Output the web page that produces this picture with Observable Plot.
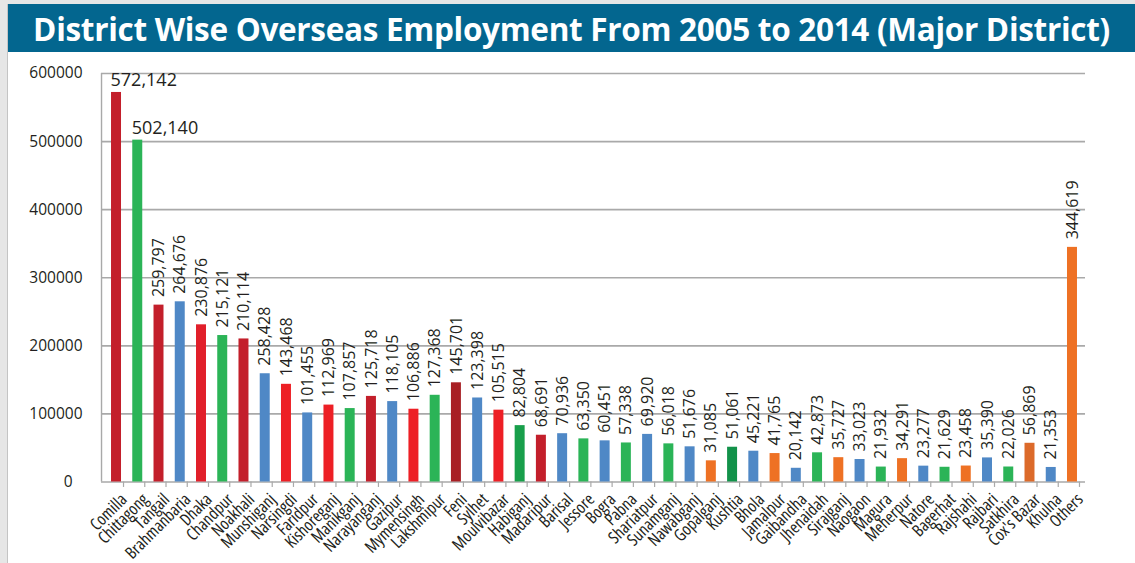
<!DOCTYPE html>
<html>
<head>
<meta charset="utf-8">
<script src="https://cdn.jsdelivr.net/npm/d3@7"></script>
<script src="https://cdn.jsdelivr.net/npm/@observablehq/plot@0.6"></script>
<style>
  html, body { margin: 0; padding: 0; }
  body { width: 1135px; height: 563px; overflow: hidden; background: #fff; position: relative; font-family: "Open Sans", sans-serif; }
  #strip { position: absolute; left: 0; top: 0; width: 7px; height: 563px; background: #e6e6e6; border-right: 1px solid #c4c4c4; }
  #topstrip { position: absolute; left: 0; top: 0; width: 1135px; height: 4px; background: #e6e6e6; }
  #title { position: absolute; left: 8px; top: 4px; width: 1127px; height: 48px; background: #03668f; color: #fff;
           font-weight: 700; font-size: 31.5px; letter-spacing: -0.3px; display: flex; align-items: center; justify-content: center; white-space: nowrap; }
  #chart { position: absolute; left: 0; top: 53px; }
</style>
</head>
<body>
<div id="strip"></div>
<div id="topstrip"></div>
<div id="title">District Wise Overseas Employment From 2005 to 2014 (Major District)</div>
<div id="chart"></div>
<script>
const districts = ["Comilla","Chittagong","Tangail","Brahmanbaria","Dhaka","Chandpur","Noakhali","Munshiganj","Narsingdi","Faridpur","Kishoreganj","Manikganj","Narayanganj","Gazipur","Mymensingh","Lakshmipur","Feni","Sylhet","Moulvibazar","Habiganj","Madaripur","Barisal","Jessore","Bogra","Pabna","Shariatpur","Sunamganj","Nawabganj","Gopalganj","Kushtia","Bhola","Jamalpur","Gaibandha","Jhenaidah","Sirajganj","Naogaon","Magura","Meherpur","Natore","Bagerhat","Rajshahi","Rajbari","Satkhira","Cox's Bazar","Khulna","Others"];
// bar heights as drawn in the picture
const values = [572142,502140,259797,264676,230876,215121,210114,159000,143468,101455,112969,107857,125718,118105,106886,127368,145701,123398,105515,82804,68691,70936,63350,60451,57338,69920,56018,51676,31085,51061,45221,41765,20142,42873,35727,33023,21932,34291,23277,21629,23458,35390,22026,56869,21353,344619];
// value label texts as printed in the picture
const valueLabels = ["572,142","502,140","259,797","264,676","230,876","215,121","210,114","258,428","143,468","101,455","112,969","107,857","125,718","118,105","106,886","127,368","145,701","123,398","105,515","82,804","68,691","70,936","63,350","60,451","57,338","69,920","56,018","51,676","31,085","51,061","45,221","41,765","20,142","42,873","35,727","33,023","21,932","34,291","23,277","21,629","23,458","35,390","22,026","56,869","21,353","344,619"];
const groups = ["darkred","green","darkred","blue","red1","green","darkred","blue","red","blue","red","green","darkred","blue","red","green","crimson","blue","red","darkgreen","darkred","blue","green","blue","green","blue","green","blue","orange","darkgreen2","blue","orange","blue","green","orange","blue","green","orange","blue","green","orange","blue","green","darkorange","blue","orange"];
const yTicks = [0,100000,200000,300000,400000,500000,600000];

const groupDomain = ["darkred","green","blue","red1","red","crimson","darkgreen","darkgreen2","orange","darkorange"];
const groupColors = ["#c31f2b","#2bb457","#4f88c6","#e11f2a","#ed1f25","#a81f24","#189f4b","#12924a","#ee7124","#dc6a2a"];

const data = districts.map((d, i) => ({district: d, value: values[i], label: valueLabels[i], group: groups[i], i}));
const textColor = "#231f20";
const gridColor = "#a9a9a9";

const chart = Plot.plot({
  width: 1135,
  height: 510,
  marginTop: 20,
  marginBottom: 81.5,
  marginLeft: 105.5,
  marginRight: 52.5,
  style: {fontFamily: "'Open Sans', sans-serif", background: "transparent"},
  x: {domain: districts, paddingInner: 0.53, paddingOuter: 0.26, round: false, axis: null},
  y: {domain: [0, 600000], axis: null},
  color: {domain: groupDomain, range: groupColors},
  marks: [
    Plot.ruleY(yTicks, {stroke: gridColor, strokeWidth: 1.6, insetLeft: -4.5, insetRight: -2.5}),
    Plot.ruleX([districts[0]], {x: d => d, y1: 0, y2: 600000, dx: -15, stroke: gridColor, strokeWidth: 1.4}),
    Plot.ruleX(districts, {x: d => d, y1: 0, y2: -8000, dx: 7, stroke: gridColor, strokeWidth: 1.2}),
    Plot.axisY(yTicks.filter(t => t !== 0), {tickSize: 0, tickPadding: 23.5, tickFormat: d3.format("d"), fontSize: 15.5, fill: textColor, label: null}),
    Plot.axisY([0], {tickSize: 0, tickPadding: 33.5, tickFormat: d3.format("d"), fontSize: 15.5, fill: textColor, label: null}),
    Plot.barY(data, {x: "district", y: "value", fill: "group"}),
    Plot.text(data, {filter: d => d.i >= 2, x: "district", y: "value", text: "label", rotate: -90, textAnchor: "start", lineAnchor: "middle", dy: -8, fontSize: 16, fill: textColor}),
    Plot.text(data, {filter: d => d.i < 2, x: "district", y: "value", text: "label", textAnchor: "start", lineAnchor: "bottom", dx: -6, dy: -6, fontSize: 18, fill: textColor}),
    Plot.text(districts, {x: d => d, frameAnchor: "bottom", text: d => d, rotate: -45, textAnchor: "end", lineAnchor: "top", dx: 3, dy: 10, fontSize: 17, fill: textColor})
  ]
});
const textGroups = chart.querySelectorAll('g[aria-label="text"]');
const catGroup = textGroups[textGroups.length - 1];
catGroup.style.fontStretch = "75%";
document.getElementById("chart").appendChild(chart);
</script>
</body>
</html>
